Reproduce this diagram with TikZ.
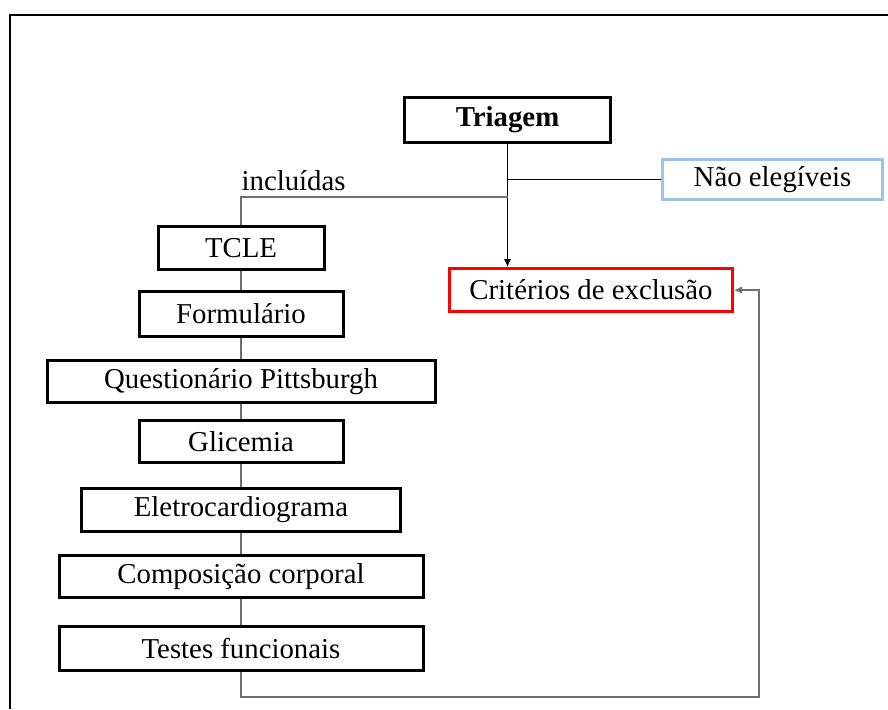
\documentclass[tikz,border=0pt]{standalone}
\usepackage{fontspec}
\setmainfont{Liberation Serif}
\usepackage{tikz}
\usetikzlibrary{positioning}
\usetikzlibrary{arrows.meta}

\definecolor{elegblue}{RGB}{157,195,230}
\definecolor{linkgray}{RGB}{110,110,118}

\tikzset{
	box/.style={draw,line width=1.5pt,inner sep=0pt,
		font=\fontsize{14.4pt}{17pt}\selectfont},
	link/.style={draw=linkgray,line width=0.6pt},
}

\begin{document}
\begin{tikzpicture}[x=0.5pt,y=-0.5pt,on grid,>={Latex[length=4pt,width=3.6pt]}]
	\useasboundingbox (0,0) rectangle (888,709);
	% moldura
	\draw[line width=1pt] (10,709) -- (10,15) -- (888,15);

	\node[box,minimum width=103pt,minimum height=22.5pt] (triagem) at (507.5,120) {\textbf{Triagem}};
	\node[box,draw=elegblue,minimum width=110pt,minimum height=20pt] (naoeleg) at (772.5,179.5) {Não elegíveis};
	\node[box,draw=red,minimum width=141.5pt,minimum height=21.5pt] (criterios) at (591,290) {Critérios de exclusão};

	\node[box,minimum width=83pt,minimum height=21.5pt] (tcle) at (241,248) {TCLE};
	\node[box,minimum width=102pt,minimum height=22.5pt] (formulario) [below=33pt of tcle] {Formulário};
	\node[box,minimum width=194pt,minimum height=21pt] (questionario) [below=33.75pt of formulario] {Questionário Pittsburgh};
	\node[box,minimum width=102pt,minimum height=21pt] (glicemia) [below=30pt of questionario] {Glicemia};
	\node[box,minimum width=159.5pt,minimum height=21.5pt] (eletro) [below=34.25pt of glicemia] {Eletrocardiograma};
	\node[box,minimum width=182pt,minimum height=21pt] (composicao) [below=33.25pt of eletro] {Composição corporal};
	\node[box,minimum width=182pt,minimum height=22pt] (testes) [below=36pt of composicao] {Testes funcionais};

	\coordinate (split) at (507.5,197);
	\coordinate (volta) at (759,697);

	% triagem
	\draw[->,line width=0.6pt] (triagem.south) -- (triagem.south |- criterios.north);
	\draw[line width=0.6pt] (naoeleg.west) -- (naoeleg.west -| triagem.south);
	\draw[link] (split) -| (tcle.north)
		node[pos=0.5,anchor=south west,inner sep=0pt,yshift=3pt,
			font=\fontsize{14.4pt}{17pt}\selectfont] {incluídas};

	% sequencia
	\foreach \a/\b in {tcle/formulario,formulario/questionario,questionario/glicemia,
		glicemia/eletro,eletro/composicao,composicao/testes}
		\draw[link] (\a) -- (\b);

	\draw[link,->] (testes.south) |- (volta) |- (criterios.east);
\end{tikzpicture}
\end{document}
